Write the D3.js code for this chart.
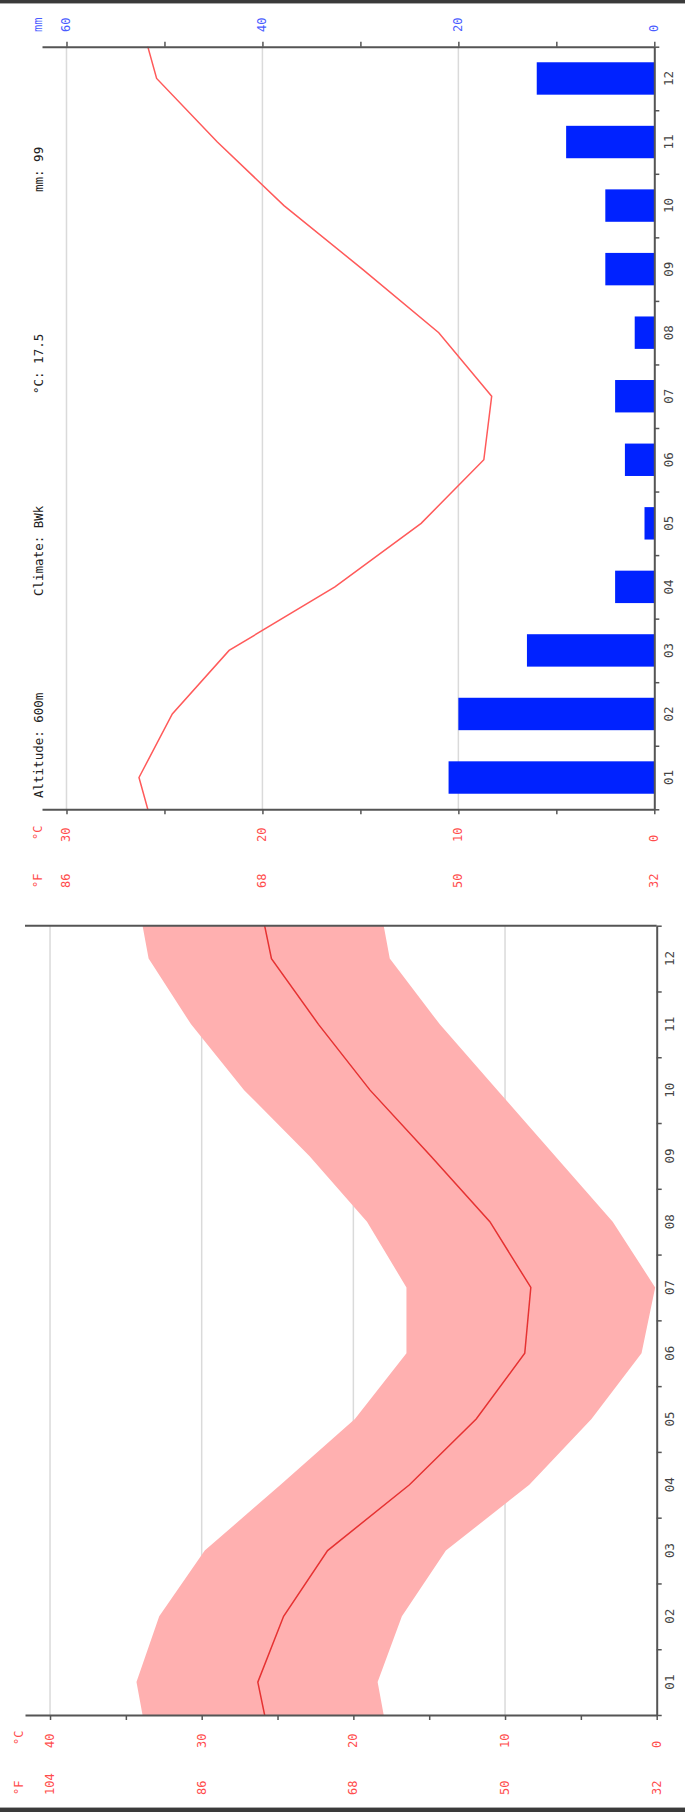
<!DOCTYPE html>
<html><head><meta charset="utf-8">
<script src="https://cdn.jsdelivr.net/npm/d3@7"></script>
<style>html,body{margin:0;padding:0;background:#fff;} svg{display:block}</style>
</head><body>
<svg id="chart" width="685" height="1812"></svg>
<script>
// ---------- data ----------
const months = ["01","02","03","04","05","06","07","08","09","10","11","12"];
const precipMM = [21, 20, 13, 4, 1, 3, 4, 2, 5, 5, 9, 12];
const tempMean = [26.3, 24.6, 21.7, 16.3, 11.9, 8.7, 8.3, 11.0, 14.9, 18.9, 22.3, 25.4];
const tempMax  = [34.3, 32.8, 29.8, 24.8, 19.9, 16.5, 16.5, 19.1, 22.9, 27.2, 30.7, 33.5];
const tempMin  = [18.4, 16.8, 13.9, 8.4, 4.3, 1.0, 0.1, 2.9, 6.7, 10.5, 14.3, 17.6];
const mmTicks = [0, 20, 40, 60];
const topCTicks = [0, 10, 20, 30];
const topFLabels = ["32", "50", "68", "86"];
const botCTicks = [0, 10, 20, 30, 40];
const botFLabels = ["32", "50", "68", "86", "104"];
const infoTexts = ["Altitude: 600m", "Climate: BWk", "°C: 17.5", "mm: 99"];

// ---------- styles ----------
const FONT = "'DejaVu Sans Mono','Liberation Mono',monospace";
const RED = "#ff4d4d", BLUE = "#4a5cff", AXIS = "#555", GRID = "#dadada";

const svg = d3.select("#chart");

function rtext(g, x, y, txt, anchor, color, size) {
  return g.append("text")
    .attr("transform", `translate(${x},${y}) rotate(-90)`)
    .attr("text-anchor", anchor)
    .attr("dominant-baseline", "central")
    .attr("fill", color).attr("font-size", size)
    .attr("font-family", FONT).text(txt);
}
function styleAxis(g) {
  g.select(".domain").attr("stroke", AXIS).attr("stroke-width", 2);
  g.selectAll(".tick line").attr("stroke", AXIS).attr("stroke-width", 1.5);
}

// page borders
svg.append("rect").attr("x", 0).attr("y", 0).attr("width", 685).attr("height", 3).attr("fill", "#3a3a3a");
svg.append("rect").attr("x", 0).attr("y", 3).attr("width", 685).attr("height", 1).attr("fill", "#aaa");
svg.append("rect").attr("x", 0).attr("y", 1808).attr("width", 685).attr("height", 4).attr("fill", "#3a3a3a");
svg.append("rect").attr("x", 0).attr("y", 1807).attr("width", 685).attr("height", 1).attr("fill", "#aaa");

// ================= TOP CHART (precipitation + mean temperature) =================
const T = {left: 42, right: 654.3, top: 46.7, bottom: 809.3};
const xMM = d3.scaleLinear().domain([0, 62.5]).range([T.right, T.left]);
const xTC = d3.scaleLinear().domain([0, 31.25]).range([T.right, T.left]);
const yBand = d3.scaleBand().domain(months).range([T.bottom, T.top]).paddingInner(0.49).paddingOuter(0.245);
const yPos = d3.scaleLinear().domain([0.5, 12.5]).range([T.bottom, T.top]);

const gt = svg.append("g");
svg.append("clipPath").attr("id", "clipT").append("rect")
  .attr("x", T.left).attr("y", T.top).attr("width", T.right - T.left).attr("height", T.bottom - T.top);

// grid
gt.selectAll(".gridT").data(mmTicks.filter(d => d > 0)).join("line")
  .attr("x1", d => xMM(d)).attr("x2", d => xMM(d))
  .attr("y1", T.top).attr("y2", T.bottom)
  .attr("stroke", GRID).attr("stroke-width", 1.5);

// bars
gt.selectAll(".bar").data(months).join("rect")
  .attr("x", (m, i) => xMM(precipMM[i]))
  .attr("width", (m, i) => xMM(0) - xMM(precipMM[i]))
  .attr("y", m => yBand(m))
  .attr("height", yBand.bandwidth())
  .attr("fill", "#0022ff");

// mean temperature line (wrapping Dec/Jan at the edges)
const meanPts = [{i: 0, v: tempMean[11]}]
  .concat(tempMean.map((v, k) => ({i: k + 1, v})))
  .concat([{i: 13, v: tempMean[0]}]);
gt.append("path").datum(meanPts)
  .attr("clip-path", "url(#clipT)")
  .attr("d", d3.line().x(d => xTC(d.v)).y(d => yPos(d.i)))
  .attr("fill", "none").attr("stroke", "#ff5a5a").attr("stroke-width", 1.5);

// axes
const axTop = gt.append("g").attr("transform", `translate(0,${T.top})`)
  .call(d3.axisTop(xMM).tickValues(d3.range(0, 61, 10)).tickSize(5).tickSizeOuter(0).tickFormat(""));
styleAxis(axTop);
const axBot = gt.append("g").attr("transform", `translate(0,${T.bottom})`)
  .call(d3.axisBottom(xTC).tickValues(d3.range(0, 31, 5)).tickSize(5).tickSizeOuter(0).tickFormat(""));
styleAxis(axBot);
const axRight = gt.append("g").attr("transform", `translate(${T.right},0)`)
  .call(d3.axisRight(yPos).tickValues(d3.range(0.5, 12.6, 1)).tickSize(5).tickSizeOuter(0).tickFormat(""));
styleAxis(axRight);

// tick labels
mmTicks.forEach(v => rtext(gt, xMM(v), 32, String(v), "start", BLUE, 12));
rtext(gt, 38, 32, "mm", "start", BLUE, 12);
topCTicks.forEach((v, k) => {
  rtext(gt, xTC(v), 842, String(v), "start", RED, 12);
  rtext(gt, xTC(v), 888, topFLabels[k], "start", RED, 12);
});
rtext(gt, 37.5, 840, "°C", "start", RED, 12);
rtext(gt, 37.5, 888, "°F", "start", RED, 12);
months.forEach((m, k) => rtext(gt, T.right + 14, yPos(k + 1), m, "middle", "#444", 12.5));

// info texts
const infoY = [798, 596, 394, 192];
infoTexts.forEach((t, k) => rtext(gt, 38, infoY[k], t, "start", "#222", 12.5));

// ================= BOTTOM CHART (temperature range) =================
const B = {left: 25, right: 656.7, top: 925.7, bottom: 1715};
const xBC = d3.scaleLinear().domain([0, 41.65]).range([B.right, B.left]);
const yPosB = d3.scaleLinear().domain([0.5, 12.5]).range([B.bottom, B.top]);

const gb = svg.append("g");
svg.append("clipPath").attr("id", "clipB").append("rect")
  .attr("x", B.left).attr("y", B.top).attr("width", B.right - B.left).attr("height", B.bottom - B.top);

gb.selectAll(".gridB").data(botCTicks.filter(d => d > 0)).join("line")
  .attr("x1", d => xBC(d)).attr("x2", d => xBC(d))
  .attr("y1", B.top).attr("y2", B.bottom)
  .attr("stroke", GRID).attr("stroke-width", 1.5);

const rangePts = [{i: 0, lo: tempMin[11], hi: tempMax[11], m: tempMean[11]}]
  .concat(months.map((mo, k) => ({i: k + 1, lo: tempMin[k], hi: tempMax[k], m: tempMean[k]})))
  .concat([{i: 13, lo: tempMin[0], hi: tempMax[0], m: tempMean[0]}]);

gb.append("path").datum(rangePts)
  .attr("clip-path", "url(#clipB)")
  .attr("d", d3.area().y(d => yPosB(d.i)).x0(d => xBC(d.lo)).x1(d => xBC(d.hi)))
  .attr("fill", "#ffb0b0");
gb.append("path").datum(rangePts)
  .attr("clip-path", "url(#clipB)")
  .attr("d", d3.line().x(d => xBC(d.m)).y(d => yPosB(d.i)))
  .attr("fill", "none").attr("stroke", "#e63232").attr("stroke-width", 1.5);

// top border line of bottom chart
gb.append("line").attr("x1", B.left).attr("x2", B.right).attr("y1", B.top).attr("y2", B.top)
  .attr("stroke", AXIS).attr("stroke-width", 2);

const axBotB = gb.append("g").attr("transform", `translate(0,${B.bottom})`)
  .call(d3.axisBottom(xBC).tickValues(d3.range(0, 41, 5)).tickSize(5).tickSizeOuter(0).tickFormat(""));
styleAxis(axBotB);
const axRightB = gb.append("g").attr("transform", `translate(${B.right},0)`)
  .call(d3.axisRight(yPosB).tickValues(d3.range(0.5, 12.6, 1)).tickSize(5).tickSizeOuter(0).tickFormat(""));
styleAxis(axRightB);

botCTicks.forEach((v, k) => {
  rtext(gb, xBC(v), 1748, String(v), "start", RED, 12);
  rtext(gb, xBC(v), 1795, botFLabels[k], "start", RED, 12);
});
rtext(gb, 19, 1745, "°C", "start", RED, 12);
rtext(gb, 19, 1795, "°F", "start", RED, 12);
months.forEach((m, k) => rtext(gb, B.right + 13, yPosB(k + 1), m, "middle", "#444", 12.5));
</script>
</body></html>
